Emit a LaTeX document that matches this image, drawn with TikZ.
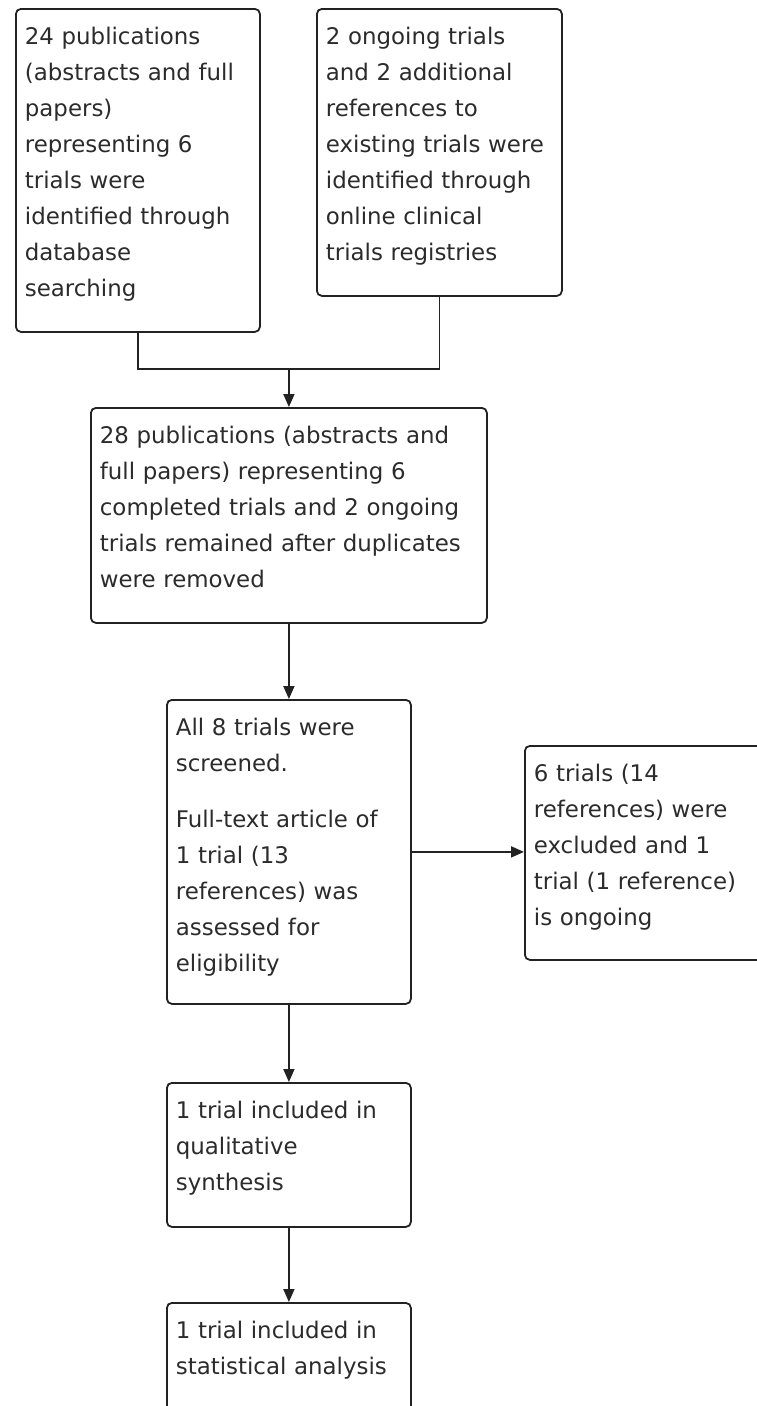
\documentclass[tikz,border=0pt]{standalone}
\usepackage{fontspec}
\setmainfont{DejaVu Sans}
\usetikzlibrary{arrows.meta, positioning}
\definecolor{linegray}{HTML}{222222}
\definecolor{textgray}{HTML}{2B2B2B}

\begin{document}
\begin{tikzpicture}[
    x=1pt, y=-1pt,
    box/.style={rectangle, rounded corners=5pt, draw=linegray, line width=1.8pt, anchor=north west, align=left, inner xsep=9pt, inner ysep=0pt, text height=36pt, text=textgray, font=\fontsize{22.9pt}{36pt}\selectfont},
    arr/.style={-{Triangle[length=13pt, width=11pt]}, line width=1.8pt, color=linegray},
    link/.style={line width=1.8pt, color=linegray},
]
    \useasboundingbox (0,0) rectangle (757,1406);
    \clip (0,0) rectangle (757,1406);

    % sources
    \node[box, text width=226pt, text depth=287pt] (dbsearch) at (15,8) {24 publications\\(abstracts and full\\papers)\\representing 6\\trials were\\identified through\\database\\searching};
    \node[box, text width=227pt, text depth=251pt] (registry) at (316,8) {2 ongoing trials\\and 2 additional\\references to\\existing trials were\\identified through\\online clinical\\trials registries};

    % main flow
    \node[box, text width=378pt, text depth=179pt] (dedup) at (90,407) {28 publications (abstracts and\\full papers) representing 6\\completed trials and 2 ongoing\\trials remained after duplicates\\were removed};
    \node[box, text width=226pt, text depth=268pt] (screen) at (166,699) {All 8 trials were\\screened.\\[20pt]Full-text article of\\1 trial (13\\references) was\\assessed for\\eligibility};
    \node[box, text width=248pt, text depth=178pt] (excluded) at (524,745) {6 trials (14\\references) were\\excluded and 1\\trial (1 reference)\\is ongoing};
    \node[box, text width=226pt, text depth=108pt] (qualsyn) at (166,1082) {1 trial included in\\qualitative\\synthesis};
    \node[box, text width=226pt, text depth=140pt] (statan) at (166,1302) {1 trial included in\\statistical analysis};

    % connectors
    \coordinate[above=38pt of dedup.north] (merge);
    \draw[link] (dbsearch.south) |- (merge) -| (registry.south);
    \draw[arr] (merge) -- (dedup.north);
    \draw[arr] (dedup) -- (screen);
    \draw[arr] (screen.east) -- (screen.east -| excluded.west);
    \draw[arr] (screen) -- (qualsyn);
    \draw[arr] (qualsyn) -- (statan);
\end{tikzpicture}
\end{document}
